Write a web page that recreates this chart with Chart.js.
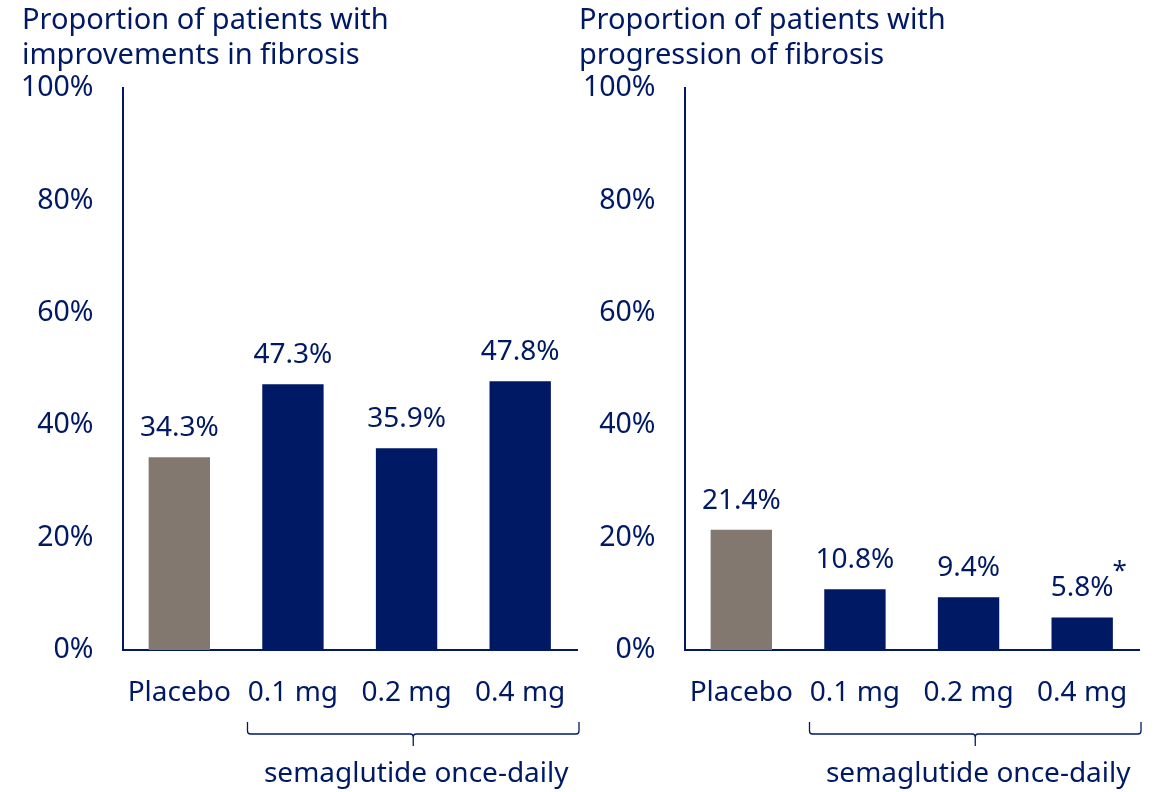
<!DOCTYPE html>
<html>
<head>
<meta charset="utf-8">
<script src="https://cdn.jsdelivr.net/npm/chart.js@4.4.0/dist/chart.umd.min.js"></script>
<style>
  body { margin: 0; background: #fff; }
  #wrap { position: relative; width: 1155px; height: 792px; overflow: hidden; }
  .box { position: absolute; top: 0; width: 580px; height: 792px; }
</style>
</head>
<body>
<div id="wrap">
  <div class="box" style="left:0"><canvas id="chartLeft"></canvas></div>
  <div class="box" style="left:562px"><canvas id="chartRight"></canvas></div>
</div>
<script>
// data
const doses = ["Placebo", "0.1 mg", "0.2 mg", "0.4 mg"];
const improvement = [34.3, 47.3, 35.9, 47.8];
const progression = [21.4, 10.8, 9.4, 5.8];
const improvementNotes = ["", "", "", ""];
const progressionNotes = ["", "", "", "*"];
const yTicks = [0, 20, 40, 60, 80, 100];
const leftTitle = ["Proportion of patients with", "improvements in fibrosis"];
const rightTitle = ["Proportion of patients with", "progression of fibrosis"];
const groupLabel = "semaglutide once-daily";

const NAVY = "#001965";
const GREY = "#82786f";
const FONT = "'Noto Sans', 'Open Sans', sans-serif";

// titles, value labels, brace
const extrasPlugin = {
  id: "extras",
  afterDraw(chart, args, opts) {
    const ctx = chart.ctx;
    const area = chart.chartArea;
    const xs = chart.scales.x;
    ctx.save();
    ctx.fillStyle = NAVY;
    ctx.strokeStyle = NAVY;

    // title
    ctx.font = "29px " + FONT;
    ctx.textAlign = "left";
    ctx.textBaseline = "middle";
    opts.title.forEach((line, i) => {
      ctx.fillText(line, opts.titleX, 21 + i * 35);
    });

    // value labels
    const meta = chart.getDatasetMeta(0);
    const data = chart.data.datasets[0].data;
    ctx.textAlign = "center";
    meta.data.forEach((bar, i) => {
      ctx.font = "28px " + FONT;
      const txt = data[i].toFixed(1) + "%";
      ctx.fillText(txt, bar.x, bar.y - 29);
      if (opts.notes[i]) {
        const w = ctx.measureText(txt).width;
        ctx.font = "26px " + FONT;
        ctx.textAlign = "left";
        ctx.fillText(opts.notes[i], bar.x + w / 2 - 1, bar.y - 46);
        ctx.textAlign = "center";
      }
    });

    // brace under the semaglutide doses
    const step = xs.getPixelForValue(1) - xs.getPixelForValue(0);
    const bx1 = xs.getPixelForValue(1) - step * 0.4;
    const bx2 = area.right + 2;
    const mid = (bx1 + bx2) / 2;
    const top = 722, y = 734, tip = 746;
    ctx.lineWidth = 1.3;
    ctx.beginPath();
    ctx.moveTo(bx1, top);
    ctx.lineTo(bx1, y - 3);
    ctx.quadraticCurveTo(bx1, y, bx1 + 3, y);
    ctx.lineTo(mid - 3, y);
    ctx.quadraticCurveTo(mid, y, mid, y + 3);
    ctx.lineTo(mid, tip);
    ctx.moveTo(mid, y + 3);
    ctx.quadraticCurveTo(mid, y, mid + 3, y);
    ctx.lineTo(bx2 - 3, y);
    ctx.quadraticCurveTo(bx2, y, bx2, y - 3);
    ctx.lineTo(bx2, top);
    ctx.stroke();

    ctx.font = "28px " + FONT;
    ctx.textAlign = "center";
    ctx.fillText(groupLabel, mid + 3, 774);
    ctx.restore();
  }
};

function makeChart(id, values, title, notes, titleX, rightPad) {
  const ctx = document.getElementById(id).getContext("2d");
  return new Chart(ctx, {
    type: "bar",
    plugins: [extrasPlugin],
    data: {
      labels: doses,
      datasets: [{
        data: values,
        backgroundColor: [GREY, NAVY, NAVY, NAVY],
        borderWidth: 0,
        categoryPercentage: 1,
        barPercentage: 0.54,
      }],
    },
    options: {
      responsive: true,
      maintainAspectRatio: false,
      animation: false,
      layout: { padding: { top: 88, right: rightPad, left: 0, bottom: 0 } },
      plugins: {
        legend: { display: false },
        tooltip: { enabled: false },
        extras: { title: title, notes: notes, titleX: titleX },
      },
      scales: {
        x: {
          grid: { display: false, drawTicks: false },
          border: { display: true, color: NAVY, width: 2 },
          ticks: { color: NAVY, font: { family: FONT, size: 28 }, padding: 26, maxRotation: 0 },
          afterFit(scale) {
            scale.height = 142;
            scale.paddingLeft = 0;
            scale.paddingRight = 0;
          },
        },
        y: {
          min: 0,
          max: 100,
          grid: { display: false, drawTicks: false },
          border: { display: true, color: NAVY, width: 2 },
          afterBuildTicks(scale) { scale.ticks = yTicks.map(v => ({ value: v })); },
          ticks: {
            color: NAVY,
            font: { family: FONT, size: 28.5 },
            padding: 29,
            callback: (v) => v + "%",
          },
          afterFit(scale) {
            scale.width = 122.5;
            scale.paddingTop = 0;
            scale.paddingBottom = 0;
          },
        },
      },
    },
  });
}

makeChart("chartLeft", improvement, leftTitle, improvementNotes, 22, 3);
makeChart("chartRight", progression, rightTitle, progressionNotes, 17, 3);
</script>
</body>
</html>
